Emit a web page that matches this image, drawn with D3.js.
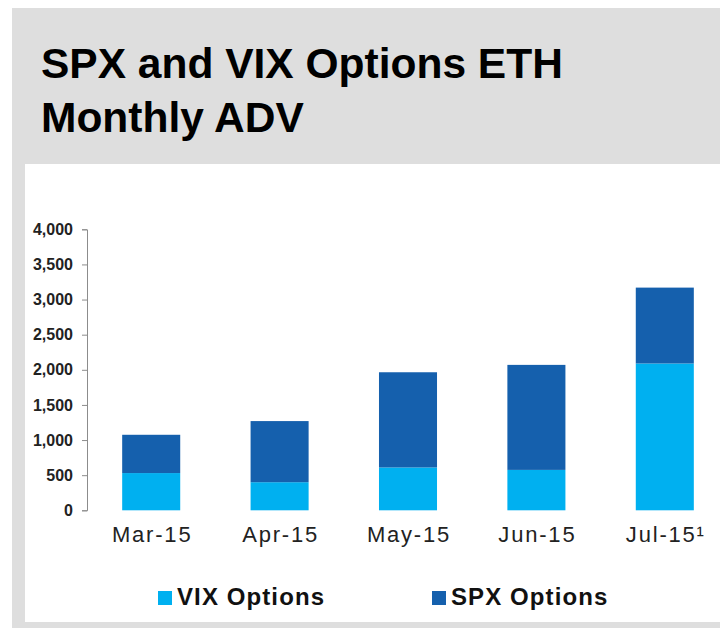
<!DOCTYPE html>
<html>
<head>
<meta charset="utf-8">
<script src="https://cdn.jsdelivr.net/npm/d3@7"></script>
<style>
  body { margin: 0; background: #fff; }
  svg { display: block; font-family: "Liberation Sans", Arial, sans-serif; }
</style>
</head>
<body>
<div id="chart"></div>
<script>
// chart data
const months = ["Mar-15", "Apr-15", "May-15", "Jun-15", "Jul-15\u00b9"];
const vixOptions = [530, 400, 610, 575, 2090];
const spxOptions = [545, 870, 1355, 1495, 1080];
const yTicks = [0, 500, 1000, 1500, 2000, 2500, 3000, 3500, 4000];
const seriesNames = ["VIX Options", "SPX Options"];
const titleLines = ["SPX and VIX Options ETH", "Monthly ADV"];

const width = 720, height = 629;
const colors = { "VIX Options": "#00b0f0", "SPX Options": "#1560ad" };

const svg = d3.select("#chart").append("svg")
    .attr("width", width)
    .attr("height", height);

// grey frame + white chart area
svg.append("rect").attr("x", 12).attr("y", 8).attr("width", width - 12).attr("height", 620).attr("fill", "#dedede");
svg.append("rect").attr("x", 25).attr("y", 164).attr("width", width - 25).attr("height", 458).attr("fill", "#fff");

// title
svg.append("g").selectAll("text")
    .data(titleLines)
    .join("text")
    .attr("x", 41)
    .attr("y", (d, i) => 78 + i * 54)
    .attr("font-size", 42.5)
    .attr("font-weight", "bold")
    .attr("fill", "#000")
    .text(d => d);

// scales
const x = d3.scaleBand().domain(months).range([87, 729]).paddingInner(0.548).paddingOuter(0.274);
const y = d3.scaleLinear().domain([0, 4000]).range([510.3, 229.3]);

const rows = months.map((m, i) => ({ month: m, "VIX Options": vixOptions[i], "SPX Options": spxOptions[i] }));
const stacked = d3.stack().keys(seriesNames)(rows);

svg.append("g").selectAll("g")
    .data(stacked)
    .join("g")
    .attr("fill", d => colors[d.key])
    .selectAll("rect")
    .data(d => d)
    .join("rect")
    .attr("x", d => x(d.data.month))
    .attr("width", x.bandwidth())
    .attr("y", d => y(d[1]))
    .attr("height", d => y(d[0]) - y(d[1]));

// y axis
const yAxis = svg.append("g")
    .attr("transform", "translate(87,0)")
    .call(d3.axisLeft(y).tickValues(yTicks).tickSize(5).tickPadding(9).tickFormat(d3.format(",")));
yAxis.select(".domain").attr("stroke", "#8c8c8c");
yAxis.selectAll(".tick line").attr("stroke", "#8c8c8c");
yAxis.selectAll(".tick text")
    .attr("font-family", "Liberation Sans, Arial, sans-serif")
    .attr("font-size", 16)
    .attr("font-weight", "bold")
    .attr("fill", "#222");

// x labels
svg.append("g").selectAll("text")
    .data(months)
    .join("text")
    .attr("x", d => x(d) + x.bandwidth() / 2 + 1)
    .attr("y", 542)
    .attr("text-anchor", "middle")
    .attr("font-size", 22)
    .attr("letter-spacing", 1.8)
    .attr("fill", "#222")
    .text(d => d);

// legend
const legendX = [158, 432];
const legend = svg.append("g").selectAll("g")
    .data(seriesNames)
    .join("g")
    .attr("transform", (d, i) => `translate(${legendX[i]},591)`);
legend.append("rect").attr("width", 14).attr("height", 14).attr("fill", d => colors[d]);
legend.append("text")
    .attr("x", 19)
    .attr("y", 13.5)
    .attr("font-size", 24)
    .attr("font-weight", "bold")
    .attr("letter-spacing", 1.1)
    .attr("fill", "#111")
    .text(d => d);
</script>
</body>
</html>
